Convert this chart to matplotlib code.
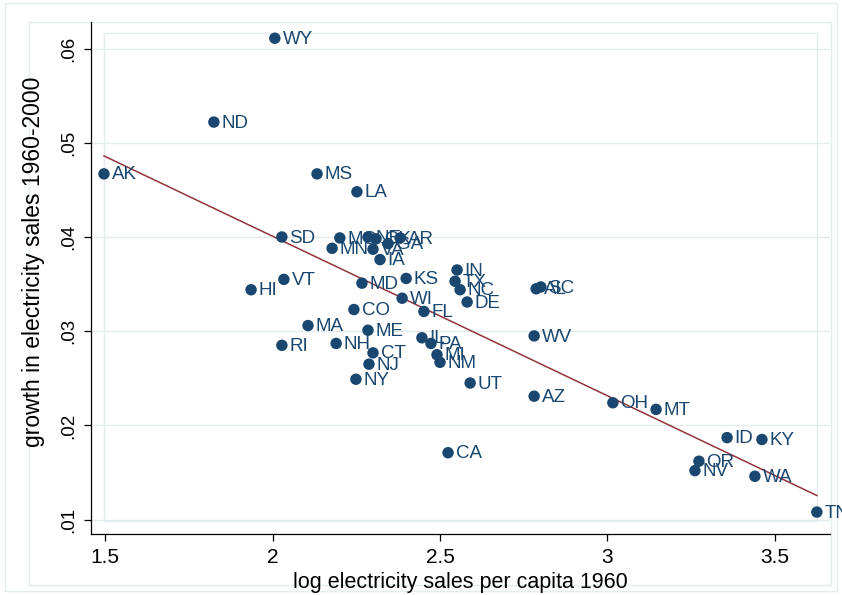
import numpy as np
import matplotlib.pyplot as plt
from matplotlib.patches import Rectangle

# ---- data ----
states = ["WY", "ND", "AK", "MS", "LA", "SD", "MO", "MN", "NE", "OK", "VA", "GA", "AR", "IA",
          "VT", "HI", "MD", "KS", "WI", "IN", "TX", "NC", "DE", "FL", "AL", "SC", "CO", "MA",
          "ME", "RI", "NH", "CT", "NJ", "NY", "IL", "PA", "MI", "NM", "UT", "WV", "AZ", "OH",
          "MT", "ID", "KY", "OR", "NV", "WA", "TN", "CA"]
log_sales_1960 = [2.007, 1.825, 1.497, 2.133, 2.252, 2.028, 2.201, 2.178, 2.285, 2.309, 2.300,
                  2.345, 2.381, 2.321, 2.034, 1.936, 2.267, 2.399, 2.387, 2.551, 2.545, 2.560,
                  2.581, 2.452, 2.787, 2.801, 2.243, 2.106, 2.285, 2.028, 2.190, 2.300, 2.288,
                  2.249, 2.446, 2.473, 2.491, 2.500, 2.590, 2.781, 2.781, 3.016, 3.145, 3.357,
                  3.461, 3.273, 3.261, 3.440, 3.625, 2.524]
growth = [.0611, .0522, .0467, .0467, .0448, .0400, .0399, .0388, .0400, .0398, .0387,
          .0393, .0399, .0376, .0355, .0344, .0351, .0356, .0335, .0365, .0353, .0344,
          .0331, .0321, .0345, .0347, .0323, .0306, .0301, .0285, .0287, .0277, .0265,
          .0249, .0293, .0287, .0275, .0267, .0245, .0295, .0231, .0224, .0217, .0187,
          .0185, .0162, .0152, .0146, .0108, .0171]
x_ticks = [1.5, 2, 2.5, 3, 3.5]
x_tick_labels = ["1.5", "2", "2.5", "3", "3.5"]
y_ticks = [.01, .02, .03, .04, .05, .06]
y_tick_labels = [".01", ".02", ".03", ".04", ".05", ".06"]

navy = "#1a476f"
maroon = "#90353b"
light = "#e4ecef"
narrow = ["Liberation Sans Narrow", "Liberation Sans", "DejaVu Sans"]
normal = ["Liberation Sans", "DejaVu Sans"]
W, H = 842, 595

fig = plt.figure(figsize=(W / 100, H / 100), dpi=100)
fig.patch.set_facecolor("white")


def px_rect(x0, y0, x1, y1):
    # light frame given in image pixels (top-left origin), kept behind the axes
    fig.add_artist(Rectangle((x0 / W, 1 - y1 / H), (x1 - x0) / W, (y1 - y0) / H,
                             transform=fig.transFigure, fill=False, lw=1.0,
                             edgecolor=light, zorder=-1))


px_rect(5, 3, 837, 591)
px_rect(29, 22, 831, 585)
px_rect(104, 33, 817, 521)

ax = fig.add_axes([91 / W, 1 - 534 / H, 739 / W, 512 / H])
ax.patch.set_visible(False)
ax.set_xlim(1.4582, 3.6642)
ax.set_ylim(0.008471, 0.062824)

for y in y_ticks:
    ax.axhline(y, color=light, lw=1.0, zorder=0)

# fitted line
coef = np.polyfit(log_sales_1960, growth, 1)
xs = np.array([min(log_sales_1960), max(log_sales_1960)])
ax.plot(xs, np.polyval(coef, xs), color=maroon, lw=1.1, zorder=2)

ax.scatter(log_sales_1960, growth, s=68, color=navy, edgecolors="none", zorder=3)
for st, x, y in zip(states, log_sales_1960, growth):
    ax.annotate(st, (x, y), xytext=(5.5, -0.8), textcoords="offset points",
                va="center", ha="left", color=navy, fontsize=13.5, family=narrow,
                zorder=4, annotation_clip=False)

for side in ["top", "right"]:
    ax.spines[side].set_visible(False)
for side in ["left", "bottom"]:
    ax.spines[side].set_color("black")
    ax.spines[side].set_linewidth(0.9)

ax.set_xticks(x_ticks)
ax.set_xticklabels(x_tick_labels, family=narrow, fontsize=15)
ax.set_yticks(y_ticks)
ax.set_yticklabels(y_tick_labels, rotation=90, va="center", fontsize=13.5, family=normal)
ax.tick_params(axis="x", direction="out", length=5, width=0.9, pad=5)
ax.tick_params(axis="y", direction="out", length=5, width=0.9, pad=5)

ax.set_xlabel("log electricity sales per capita 1960", family=narrow, fontsize=15.5)
ax.xaxis.set_label_coords(0.5, -0.075)
ax.set_ylabel("growth in electricity sales 1960-2000", fontsize=16.5, family=normal)
ax.yaxis.set_label_coords(-0.062, 0.531)

fig.savefig("out.png", dpi=100)
